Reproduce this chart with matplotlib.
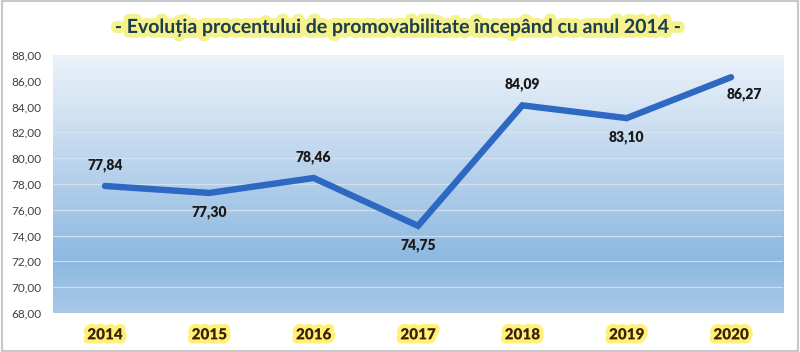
import numpy as np
import matplotlib
matplotlib.use("Agg")
import matplotlib.pyplot as plt
import matplotlib.patheffects as pe
from matplotlib.colors import LinearSegmentedColormap

years = ["2014", "2015", "2016", "2017", "2018", "2019", "2020"]
values = [77.84, 77.30, 78.46, 74.75, 84.09, 83.10, 86.27]
label_pos = ["above", "below", "above", "below", "above", "below", "right"]
yticks = [68, 70, 72, 74, 76, 78, 80, 82, 84, 86, 88]

FONT = ["Lato", "DejaVu Sans"]


def fmt(v):
    return ("%.2f" % v).replace(".", ",")


fig = plt.figure(figsize=(8.0, 3.52), dpi=100)
fig.patch.set_facecolor("white")
ax = fig.add_axes([0.066, 0.111, 0.913, 0.733])

# background gradient (light at top, deeper blue near bottom)
cmap = LinearSegmentedColormap.from_list(
    "bg", [(0.0, "#aac9e8"), (0.2, "#8cb8e1"), (0.55, "#b8d2ec"),
           (1.0, "#ecf3fa")])
grad = np.linspace(0, 1, 256).reshape(-1, 1)
ax.imshow(grad, aspect="auto", cmap=cmap, origin="lower",
          extent=[-0.5, 6.5, 68, 88], zorder=0)

ax.set_xlim(-0.5, 6.5)
ax.set_ylim(68, 88)
for s in ax.spines.values():
    s.set_visible(False)
ax.set_yticks(yticks)
ax.set_yticklabels([fmt(t) for t in yticks], fontsize=8.5, color="#404040",
                   family=FONT)
ax.tick_params(axis="y", length=0, pad=8)
ax.set_xticks([])
for t in yticks[1:-1]:
    ax.axhline(t, color="#dce6f0", lw=0.9, alpha=0.8, zorder=1)

x = np.arange(len(years))
ax.plot(x, values, color="#2d68c2", lw=4.6, solid_capstyle="round",
        solid_joinstyle="miter", zorder=3)

for xi, v, pos in zip(x, values, label_pos):
    if pos == "above":
        off, ha, va = (0, 10), "center", "bottom"
    elif pos == "below":
        off, ha, va = (0, -9), "center", "top"
    else:
        off, ha, va = (-3, -7), "left", "top"
    ax.annotate(fmt(v), (xi, v), xytext=off, textcoords="offset points",
                ha=ha, va=va, fontsize=10, fontweight="heavy",
                color="#1a1a1a", family=FONT, zorder=4)

glow = [pe.withStroke(linewidth=6, foreground="#fff066", alpha=0.9)]
for xi, yr in zip(x, years):
    ax.text(xi, -0.085, yr, transform=ax.get_xaxis_transform(),
            ha="center", va="center", fontsize=11, fontweight="heavy",
            color="#3d1f0a", family=FONT, path_effects=glow)

fig.text(0.5, 0.922,
         "- Evoluția procentului de promovabilitate începând cu anul 2014 -",
         ha="center", va="center", fontsize=14, fontweight="bold",
         color="#1c3d4d", family=FONT,
         path_effects=[pe.withStroke(linewidth=7, foreground="#f3ee70",
                                     alpha=0.8)])

fig.add_artist(plt.Rectangle((0.002, 0.003), 0.996, 0.994, fill=False,
                             edgecolor="#c8c8c8", lw=1.5,
                             transform=fig.transFigure))

fig.savefig("out.png", dpi=100)
